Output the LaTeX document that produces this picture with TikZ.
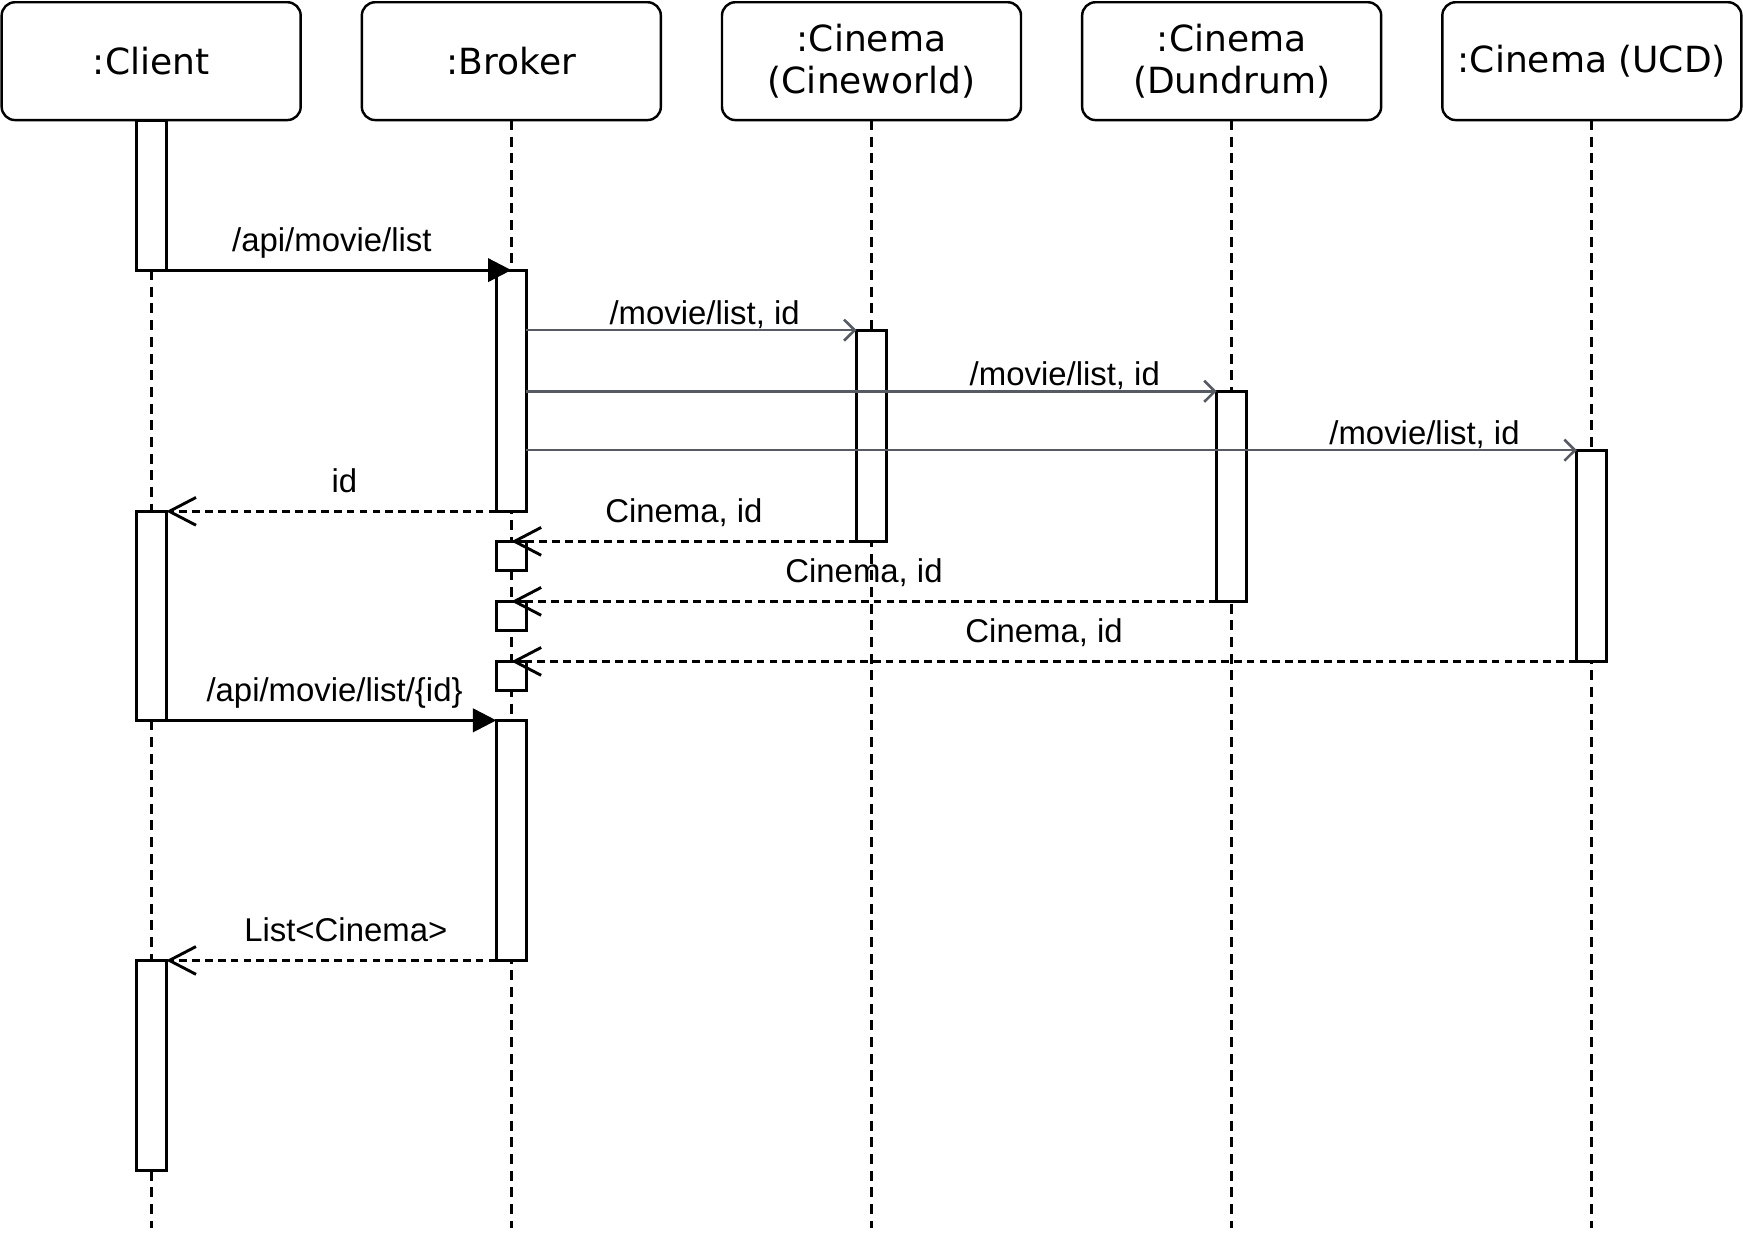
\documentclass[tikz,border=0pt]{standalone}
\usepackage{fontspec}
\newfontfamily\headfont{DejaVu Sans}
\newfontfamily\msgfont{Liberation Sans}
\usepackage{tikz}
\usetikzlibrary{arrows.meta, positioning}
\definecolor{callgray}{RGB}{86,91,99}

\begin{document}
\begin{tikzpicture}[
		x=0.5pt, y=-0.5pt,
		head/.style={rectangle, draw, line width=1.1pt, outer sep=0pt, rounded corners=6pt, minimum width=134.5pt, minimum height=53pt, inner sep=2pt, font=\headfont\fontsize{16.2}{19}\selectfont, align=center},
		act/.style={rectangle, draw, fill=white, line width=1.4pt, outer sep=0pt, minimum width=13.5pt, inner sep=0pt, anchor=north},
		lifeline/.style={line width=1.25pt, dash pattern=on 4.5pt off 3pt},
		sync/.style={-{Triangle[length=10.5pt, width=10.5pt]}, line width=1.3pt},
		call/.style={-{Straight Barb[length=4.8pt, width=9.5pt]}, callgray, line width=1.15pt},
		reply/.style={-{Straight Barb[length=12pt, width=12.5pt]}, line width=1.3pt, dash pattern=on 3.5pt off 2.3pt},
		msg_text/.style={font=\msgfont\fontsize{14.8}{17}\selectfont, text=black, inner sep=0pt, anchor=base, yshift=8.5pt},
		call_text/.style={msg_text, yshift=-6pt}
		]
		\useasboundingbox (0,0) rectangle (1568,1109);
		
		% Participants (top row)
		\node[head] (client) at (136,55) {:Client};
		\node[head] (broker) at (460,55) {:Broker};
		\node[head] (cineworld) at (784,55) {:Cinema\\(Cineworld)};
		\node[head] (dundrum) at (1108,55) {:Cinema\\(Dundrum)};
		\node[head] (ucd) at (1432,55) {:Cinema (UCD)};
		
		% Lifelines
		\coordinate (bottom) at (0,1105);
		\foreach \p in {client, broker, cineworld, dundrum, ucd}
			\draw[lifeline] (\p.south) -- (\p.south |- bottom);
		
		% Activations
		\node[act, minimum height=67.5pt] (client_a1) at (client.south) {};
		\node[act, minimum height=108.5pt] (broker_a1) at (broker.south |- client_a1.south) {};
		\node[act, minimum height=95pt] (cineworld_a1) at (784,297) {};
		\node[act, minimum height=94.5pt] (dundrum_a1) at (1108,352) {};
		\node[act, minimum height=95pt] (ucd_a1) at (1432,405) {};
		\node[act, minimum height=94pt] (client_a2) at (client.south |- broker_a1.south) {};
		\node[act, minimum height=13pt] (broker_r1) at (broker.south |- cineworld_a1.south) {};
		\node[act, minimum height=13pt] (broker_r2) at (broker.south |- dundrum_a1.south) {};
		\node[act, minimum height=13pt] (broker_r3) at (broker.south |- ucd_a1.south) {};
		\node[act, minimum height=108pt] (broker_a2) at (broker.south |- client_a2.south) {};
		\node[act, minimum height=94.5pt] (client_a3) at (client.south |- broker_a2.south) {};
		
		% Client to broker
		\draw[sync] (client_a1.south east) -- node[msg_text, pos=0.48] {/api/movie/list} (broker_a1.north);
		
		% Broker to the cinemas
		\draw[call] (broker_a1.east |- cineworld_a1.north) -- node[call_text, pos=0.54] {/movie/list, id} (cineworld_a1.north west);
		\draw[call] (broker_a1.east |- dundrum_a1.north) -- node[call_text, pos=0.78] {/movie/list, id} (dundrum_a1.north west);
		\draw[call] (broker_a1.east |- ucd_a1.north) -- node[call_text, pos=0.855] {/movie/list, id} (ucd_a1.north west);
		
		% Replies
		\draw[reply] (broker_a1.south west) -- node[msg_text, pos=0.46] {id} (client_a2.north east);
		\draw[reply] (cineworld_a1.south west) -- node[msg_text, pos=0.5] {Cinema, id} (broker_r1.north);
		\draw[reply] (dundrum_a1.south west) -- node[msg_text, pos=0.5] {Cinema, id} (broker_r2.north);
		\draw[reply] (ucd_a1.south west) -- node[msg_text, pos=0.5] {Cinema, id} (broker_r3.north);
		
		% Second request
		\draw[sync] (client_a2.south east) -- node[msg_text, pos=0.51] {/api/movie/list/\{id\}} (broker_a2.north west);
		\draw[reply] (broker_a2.south west) -- node[msg_text, pos=0.456] {List<Cinema>} (client_a3.north east);
		
	\end{tikzpicture}
\end{document}
